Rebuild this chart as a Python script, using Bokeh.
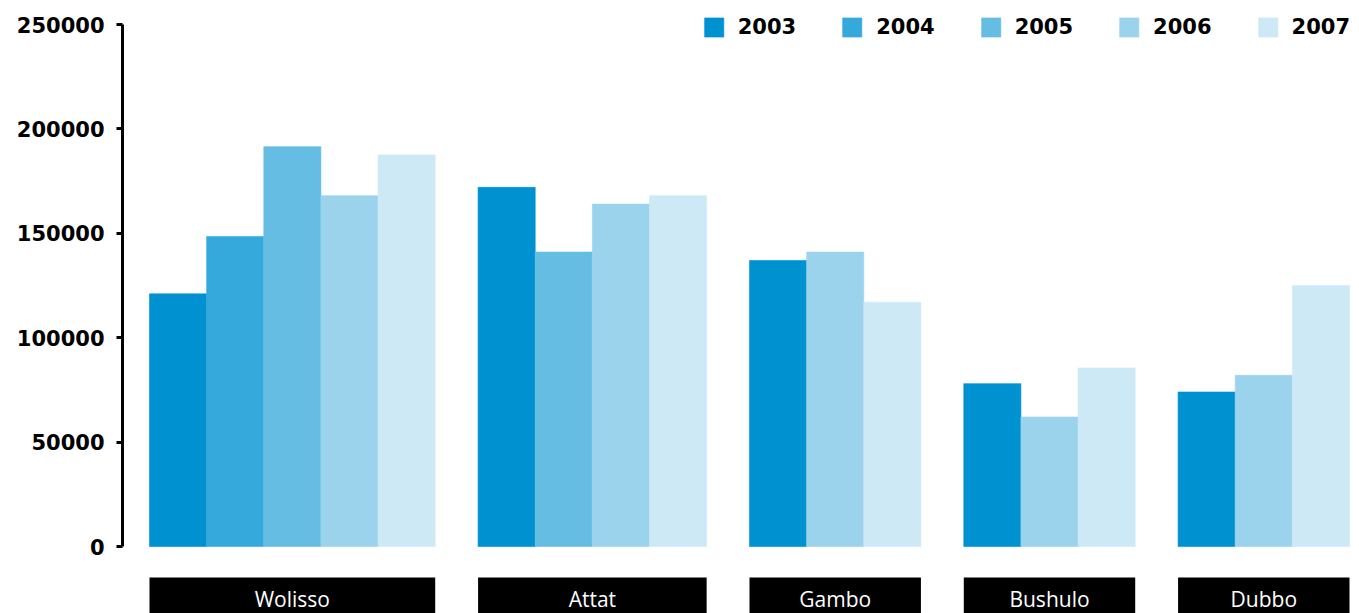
from bokeh.plotting import figure
from bokeh.models import Range1d, Legend, LegendItem, ColumnDataSource, FixedTicker, BasicTickFormatter
from bokeh.core.properties import value
from bokeh.embed import file_html
from bokeh.resources import INLINE

categories = ["Wolisso", "Attat", "Gambo", "Bushulo", "Dubbo"]
years = ["2003", "2004", "2005", "2006", "2007"]
v2003 = [121000, 172000, 137000, 78000, 74000]
v2004 = [148500, None, None, None, None]
v2005 = [191500, 141000, None, None, None]
v2006 = [168000, 164000, 141000, 62000, 82000]
v2007 = [187500, 168000, 117000, 85500, 125000]
series = [v2003, v2004, v2005, v2006, v2007]
colors = ["#0091d0", "#36a9dc", "#66bde3", "#9bd3ed", "#cce9f5"]
y_ticks = [0, 50000, 100000, 150000, 200000, 250000]

W, H = 1359, 613
left_border = 122
top_border = 6
GAP = 0.75

# layout of bars: each present bar gets one unit, groups separated by GAP
pos = {}
starts, ends = [], []
cursor = 0.0
for g in range(len(categories)):
    starts.append(cursor)
    k = 0
    for yi, s in enumerate(series):
        if s[g] is not None:
            pos[(g, yi)] = cursor + k + 0.5
            k += 1
    cursor += k
    ends.append(cursor)
    cursor += GAP
total = ends[-1]

frame_w = W - left_border
unit_px = (1349 - 149) / total
x0 = -27 / unit_px
x1 = x0 + frame_w / unit_px

scale = 522 / 250000  # px per value
zero_px = 546 - top_border
frame_h = H - top_border
y_end = zero_px / scale
y_start = -(frame_h - zero_px) / scale

p = figure(width=W, height=H, output_backend="svg", toolbar_location=None,
           x_range=Range1d(x0, x1), y_range=Range1d(y_start, y_end),
           x_axis_location=None, min_border_left=left_border, min_border_right=0,
           min_border_top=top_border, min_border_bottom=0)
p.outline_line_color = None
p.grid.visible = False
p.background_fill_color = "white"

items = []
for yi, (yr, s, c) in enumerate(zip(years, series, colors)):
    xs = [pos[(g, yi)] for g in range(len(categories)) if s[g] is not None]
    tops = [s[g] for g in range(len(categories)) if s[g] is not None]
    src = ColumnDataSource(dict(x=xs, top=tops))
    r = p.vbar(x="x", top="top", bottom=0, width=1.0, source=src, fill_color=c,
               line_color=c, line_width=0.6)
    items.append(LegendItem(label=yr, renderers=[r]))

# category boxes below
box_top = -(577 - 546) / scale
text_y = -(598 - 546) / scale
p.quad(left=starts, right=ends, top=box_top, bottom=y_start - 10000, fill_color="black", line_color=None)
p.text(x=[(a + b) / 2 for a, b in zip(starts, ends)], y=[text_y] * len(categories), text=categories,
       text_color="white", text_font=value("Open Sans"), text_font_size="21px",
       text_align="center", text_baseline="middle")

ax = p.yaxis[0]
ax.bounds = (0, 250000)
ax.ticker = FixedTicker(ticks=y_ticks)
ax.formatter = BasicTickFormatter(use_scientific=False)
ax.minor_tick_line_color = None
ax.axis_line_width = 3
ax.major_tick_line_width = 3
ax.major_tick_out = 6
ax.major_tick_in = 0
ax.major_label_standoff = 12
ax.major_label_text_font = "DejaVu Sans"
ax.major_label_text_font_style = "bold"
ax.major_label_text_font_size = "21px"
ax.major_label_text_color = "black"
ax.axis_line_color = "black"
ax.major_tick_line_color = "black"

legend = Legend(items=items, orientation="horizontal", location="top_right",
                glyph_width=24, glyph_height=24, label_standoff=12, spacing=44,
                label_text_font="DejaVu Sans", label_text_font_style="bold",
                label_text_font_size="21px", label_text_color="black",
                border_line_color=None, background_fill_alpha=0, padding=0, margin=9)
p.add_layout(legend)

open("out.html", "w").write(file_html(p, INLINE))
